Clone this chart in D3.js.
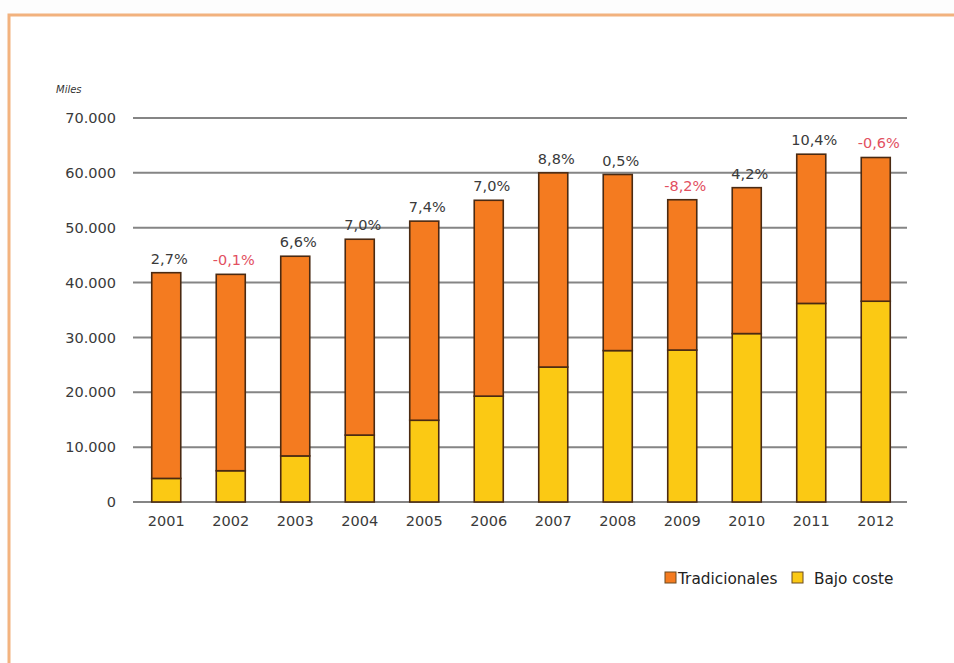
<!DOCTYPE html>
<html><head><meta charset="utf-8">
<script src="https://cdn.jsdelivr.net/npm/d3@7"></script>
<style>
html,body{margin:0;padding:0;background:#fdfdfd;}
svg{display:block;}
</style></head>
<body>
<svg id="chart" width="954" height="663"></svg>
<script>
const years = ["2001","2002","2003","2004","2005","2006","2007","2008","2009","2010","2011","2012"];
const bajoCoste = [4300, 5700, 8400, 12200, 14900, 19300, 24600, 27600, 27700, 30700, 36200, 36600];
const totales = [41800, 41500, 44800, 47900, 51200, 55000, 60000, 59700, 55100, 57300, 63400, 62800];
const variacion = ["2,7%","-0,1%","6,6%","7,0%","7,4%","7,0%","8,8%","0,5%","-8,2%","4,2%","10,4%","-0,6%"];
const yTicks = [0,10000,20000,30000,40000,50000,60000,70000];
const seriesNames = ["Tradicionales","Bajo coste"];
const colors = {"Tradicionales":"#f47b20","Bajo coste":"#fbc914"};

const svg = d3.select("#chart");
const font = "'DejaVu Sans', Verdana, sans-serif";

// frame
svg.append("rect").attr("x",9).attr("y",15).attr("width",960).attr("height",680)
  .attr("fill","#ffffff").attr("stroke","#f2b27e").attr("stroke-width",3);

const x = d3.scaleBand().domain(years).range([134,908]).paddingInner(0.55).paddingOuter(0.275);
const y = d3.scaleLinear().domain([0,70000]).range([502,118]);

const fmt = v => d3.format(",")(v).replace(/,/g,".");

// gridlines
svg.append("g").selectAll("line").data(yTicks).join("line")
  .attr("x1",133).attr("x2",907)
  .attr("y1",d=>y(d)).attr("y2",d=>y(d))
  .attr("stroke","#858585").attr("stroke-width",2);

// y axis labels
const yAxis = d3.axisLeft(y).tickValues(yTicks).tickFormat(fmt).tickSize(0).tickPadding(0);
const gy = svg.append("g").attr("transform","translate(116,0)").call(yAxis);
gy.select(".domain").remove();
gy.selectAll("text").attr("font-family",font).attr("font-size",14.5).attr("fill","#3a3a3a");

svg.append("text").attr("x",56).attr("y",93).text("Miles")
  .attr("font-family",font).attr("font-size",10).attr("font-style","italic").attr("fill","#333");

// x axis labels
const xAxis = d3.axisBottom(x).tickSize(0).tickPadding(0);
const gx = svg.append("g").attr("transform","translate(0,516)").call(xAxis);
gx.select(".domain").remove();
gx.selectAll("text").attr("font-family",font).attr("font-size",14.5).attr("fill","#3a3a3a").attr("dy","0.71em");

// stacked bars
const rows = years.map((yr,i)=>({year:yr, "Bajo coste":bajoCoste[i], "Tradicionales":totales[i]-bajoCoste[i]}));
const stack = d3.stack().keys(["Bajo coste","Tradicionales"])(rows);
svg.append("g").selectAll("g").data(stack).join("g")
  .attr("fill",d=>colors[d.key])
  .selectAll("rect").data(d=>d).join("rect")
  .attr("x",d=>x(d.data.year)).attr("width",x.bandwidth())
  .attr("y",d=>y(d[1])).attr("height",d=>y(d[0])-y(d[1]))
  .attr("stroke","#4a2a12").attr("stroke-width",1.6);

// percentage labels
svg.append("g").selectAll("text").data(years).join("text")
  .attr("x",d=>x(d)+x.bandwidth()/2+3)
  .attr("y",(d,i)=>y(totales[i])-9)
  .attr("text-anchor","middle")
  .attr("font-family",font).attr("font-size",14.5)
  .attr("fill",(d,i)=>variacion[i].startsWith("-")?"#e2505f":"#3a3a3a")
  .text((d,i)=>variacion[i]);

// legend
const lg = svg.append("g").attr("transform","translate(665,578)");
const items = [{name:"Tradicionales",x:0},{name:"Bajo coste",x:127}];
items.forEach(it=>{
  lg.append("rect").attr("x",it.x).attr("y",-6).attr("width",11).attr("height",11)
    .attr("fill",colors[it.name]).attr("stroke","#6b4a20").attr("stroke-width",1);
  lg.append("text").attr("x",it.x + (it.name==="Tradicionales"?13:22)).attr("y",6)
    .attr("font-family",font).attr("font-size",15.3).attr("fill","#222").text(it.name);
});
</script>
</body></html>
